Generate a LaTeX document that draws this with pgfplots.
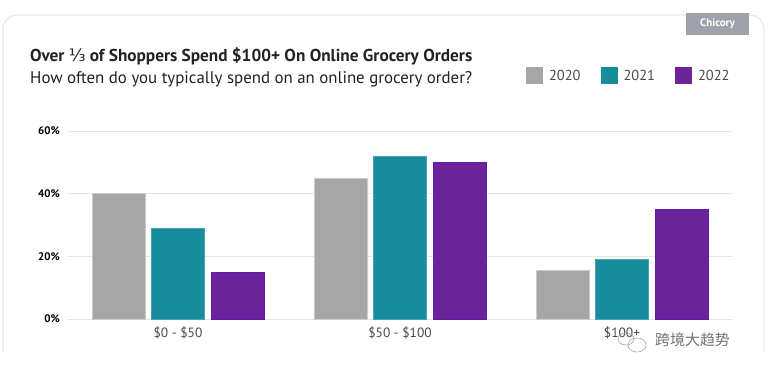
\documentclass[border=0pt]{standalone}
\usepackage{fontspec}
\setmainfont{PT Sans}
\newfontfamily\sym{DejaVu Sans}
\newfontfamily\cjk{Noto Sans CJK SC}
\usepackage{pgfplots}
\pgfplotsset{compat=1.18}
\definecolor{c20}{HTML}{A6A6A6}
\definecolor{c21}{HTML}{178C9C}
\definecolor{c22}{HTML}{6C2399}
\definecolor{chic}{HTML}{9EA1AB}
\definecolor{cardline}{HTML}{E8E8E8}
\definecolor{gridc}{HTML}{E6E6E6}
\definecolor{txt}{HTML}{222222}
\definecolor{lbl}{HTML}{4A4A4A}
\begin{document}
\begin{tikzpicture}[x=1bp,y=1bp]
\path[use as bounding box] (0,0) rectangle (772,373);
\fill[white] (0,0) rectangle (772,373);
% card (bottom cut off as in the screenshot)
\draw[draw=cardline, line width=1.2bp, rounded corners=14bp] (3,21) -- (3,358) -- (764,358) -- (764,21);
% tag
\fill[chic] (686,338) rectangle (749,360);
\node[white, font=\bfseries\fontsize{11}{12}\selectfont] at (717.5,349) {Chicory};
% titles
\node[anchor=base west, inner sep=0, text=txt] at (30,312) {\bfseries\fontsize{17.3}{19}\selectfont Over {\sym\mdseries ⅓} of Shoppers Spend \$100+ On Online Grocery Orders};
\node[anchor=base west, inner sep=0, text=txt] at (30,290) {\fontsize{16.9}{19}\selectfont How often do you typically spend on an online grocery order?};
\begin{axis}[
  at={(67bp,54bp)}, anchor=south west,
  scale only axis, width=666bp, height=188bp,
  xmin=-0.5, xmax=2.5, ymin=0, ymax=60,
  enlargelimits=false,
  axis line style={draw=none},
  major tick length=0pt,
  ymajorgrids, major grid style={draw=gridc, line width=1bp},
  ytick={0,20,40,60},
  yticklabel={\pgfmathprintnumber{\tick}\%},
  /pgf/number format/assume math mode=true,
  yticklabel style={font=\bfseries\fontsize{11}{12}\selectfont, text=black, anchor=east, inner sep=0pt, xshift=-7bp},
  xtick={0,1,2},
  xticklabels={\$0 - \$50, \$50 - \$100, \$100+},
  xticklabel style={font=\fontsize{13.5}{16}\selectfont, text=lbl, anchor=north, inner sep=0pt, yshift=-8bp},
  ybar=6.5bp, bar width=53bp,
  clip=false,
  legend columns=3,
  legend style={draw=none, fill=none, at={(0.689,1.34)}, anchor=north west, inner sep=0pt,
    font=\fontsize{14.5}{17}\selectfont, text=lbl,
    /tikz/every odd column/.append style={column sep=4bp},
    /tikz/every even column/.append style={column sep=18bp}},
  legend image code/.code={\path[#1, draw=none] (0bp,-8.5bp) rectangle (17bp,8.5bp);},
]
\addplot[fill=c20, draw=c20!60!white, line width=0.8bp] coordinates {(0,40) (1,45) (2,15.4)};
\addplot[fill=c21, draw=c21!80!white, line width=0.8bp] coordinates {(0,29) (1,52) (2,19)};
\addplot[fill=c22, draw=c22!85!blue, line width=0.8bp] coordinates {(0,15) (1,50) (2,35)};
\legend{2020,2021,2022}
\end{axis}
% watermark
\node[anchor=base west, inner sep=0, text=black!55] at (655,28) {\cjk\fontsize{15}{17}\selectfont 跨境大趋势};
\draw[black!35, line width=0.6bp] (626,34) ellipse (8bp and 6bp);
\draw[black!35, line width=0.6bp] (637,28) ellipse (9bp and 7bp);
\end{tikzpicture}
\end{document}
